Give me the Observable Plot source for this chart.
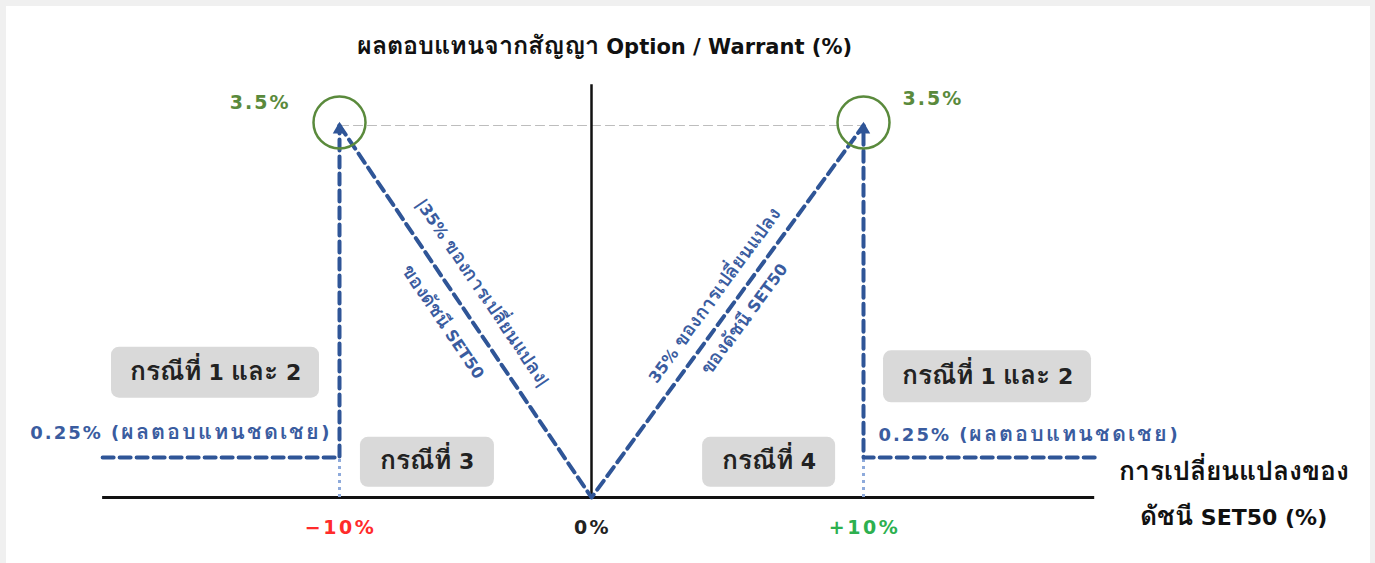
<!DOCTYPE html>
<html>
<head>
<meta charset="utf-8">
<script src="https://cdn.jsdelivr.net/npm/d3@7"></script>
<script src="https://cdn.jsdelivr.net/npm/@observablehq/plot@0.6"></script>
<style>
  @font-face {
    font-family: "ThaiFix";
    src: local("Loma Bold"), local("Loma-Bold"), local("Garuda Bold"), local("Garuda-Bold"),
         local("Noto Sans Thai Looped Bold"), local("Noto Sans Thai Bold"), local("NotoSansThai-Bold"),
         local("Loma"), local("Garuda"), local("Noto Sans Thai"), local("NotoSansThai-Regular");
    font-weight: 700;
    unicode-range: U+0E00-0E7F;
    size-adjust: 120%;
  }
  @font-face {
    font-family: "ThaiFix";
    src: local("Loma"), local("Garuda"), local("Noto Sans Thai Looped"), local("Noto Sans Thai"), local("NotoSansThai-Regular");
    font-weight: 400;
    unicode-range: U+0E00-0E7F;
    size-adjust: 120%;
  }
  html, body { margin: 0; padding: 0; background: #f0f0f0; }
  #panel { position: absolute; left: 6px; top: 6px; width: 1364px; height: 557px; background: #ffffff; }
  #chart { position: absolute; left: 0; top: 0; width: 1375px; height: 563px; }
</style>
</head>
<body>
<div id="panel"></div>
<div id="chart"></div>
<script>
// ---- data ----
const indexChange = [-10, 0, 10];        // SET50 change (%)
const payoffV = [3.5, 0, 3.5];           // option/warrant return (%) along the V
const capReturn = 3.5;                   // maximum return (%)
const compensation = 0.25;               // compensation return (%)
const xAxisExtent = [-19.4, 18.5];       // drawn extent of the x axis line
const yAxisExtent = [0, 3.9];            // drawn extent of the y axis line
const tickValues = [-10, 0, 10];
const tickLabels = ["−10%", "0%", "+10%"];
const capLabels = ["3.5%", "3.5%"];
const compLabel = "0.25% (ผลตอบแทนชดเชย)";
const caseLabels = ["กรณีที่ 1 และ 2", "กรณีที่ 1 และ 2", "กรณีที่ 3", "กรณีที่ 4"];
const slopeLine1 = ["|35% ของการเปลี่ยนแปลง|", "35% ของการเปลี่ยนแปลง"];
const slopeLine2 = "ของดัชนี SET50";
const titleText = "ผลตอบแทนจากสัญญา Option / Warrant (%)";
const xTitle = "การเปลี่ยนแปลงของ\nดัชนี SET50 (%)";

// ---- derived tables ----
const vLine = indexChange.map((x, i) => ({x, y: payoffV[i]}));
const leftComp = [{x: xAxisExtent[0], y: compensation}, {x: -10, y: compensation}, {x: -10, y: capReturn}];
const rightComp = [{x: xAxisExtent[1], y: compensation}, {x: 10, y: compensation}, {x: 10, y: capReturn}];
const capPoints = [{x: -10, y: capReturn}, {x: 10, y: capReturn}];
const ticks = tickValues.map((v, i) => ({v, label: tickLabels[i]}));

// annotation layout (chart coordinates of box centres, box size in px)
const boxes = [
  {label: caseLabels[0], x: -14.92, y: 1.08, w: 208, h: 51},
  {label: caseLabels[1], x: 14.56, y: 1.04, w: 208, h: 52},
  {label: caseLabels[2], x: -6.51, y: 0.22, w: 134, h: 50},
  {label: caseLabels[3], x: 6.53, y: 0.22, w: 133, h: 50}
];

const BLUE = "#2f5597";
const BLUE_TXT = "#3a5c9f";
const GREEN = "#5a8a3c";
const FONT = "'DejaVu Sans', ThaiFix, Loma, Garuda, 'Noto Sans Thai', sans-serif";

function off(theta, along, perp) {
  const t = theta * Math.PI / 180;
  return {dx: along * Math.cos(t) + perp * Math.sin(t), dy: along * Math.sin(t) - perp * Math.cos(t)};
}
const angL = 55.9, angR = -53.8;
const oL1 = off(angL, 0, 20), oL2 = off(angL, 2, -29);
const oR1 = off(angR, -1, 15), oR2 = off(angR, -2, -23);

function draw() {
  const boxMarks = boxes.map(b => Plot.rect([b], {x1: "x", x2: "x", y1: "y", y2: "y", fill: "#d9d9d9", rx: 8,
    insetLeft: -b.w / 2, insetRight: -b.w / 2, insetTop: -b.h / 2, insetBottom: -b.h / 2}));

  const chart = Plot.plot({
    width: 1375,
    height: 563,
    margin: 0,
    x: {type: "linear", domain: [-10, 0, 10], range: [339, 591, 863], axis: null},
    y: {type: "linear", domain: [0, 0.25, 3.5], range: [497, 457, 125], axis: null},
    style: {background: "transparent", fontFamily: FONT},
    marks: [
      Plot.line(capPoints, {x: "x", y: "y", stroke: "#bdbdbd", strokeWidth: 1.2, strokeDasharray: "9,5"}),
      ...boxMarks,
      Plot.ruleY([0], {x1: xAxisExtent[0], x2: xAxisExtent[1], stroke: "#111", strokeWidth: 3}),
      Plot.ruleX([0], {y1: yAxisExtent[0], y2: yAxisExtent[1], stroke: "#111", strokeWidth: 2.5}),
      Plot.ruleX([-10, 10], {y1: 0, y2: compensation, stroke: "#8eaadb", strokeWidth: 3, strokeDasharray: "3,4"}),
      Plot.line(leftComp, {x: "x", y: "y", stroke: BLUE, strokeWidth: 4, strokeDasharray: "11,6"}),
      Plot.line(rightComp, {x: "x", y: "y", stroke: BLUE, strokeWidth: 4, strokeDasharray: "11,6"}),
      Plot.line(vLine, {x: "x", y: "y", stroke: BLUE, strokeWidth: 4, strokeDasharray: "11,6"}),
      Plot.dot(capPoints, {x: "x", y: "y", symbol: "triangle", r: 5, fill: BLUE, dy: 4}),
      Plot.dot(capPoints, {x: "x", y: "y", r: 26, stroke: GREEN, strokeWidth: 2.5, fill: "none", dy: -3}),
      Plot.text([capPoints[0]], {x: "x", y: "y", text: () => capLabels[0], textAnchor: "end", dx: -49, dy: -23,
        fill: GREEN, fontSize: 19, fontWeight: "bold"}),
      Plot.text([capPoints[1]], {x: "x", y: "y", text: () => capLabels[1], textAnchor: "start", dx: 39, dy: -27,
        fill: GREEN, fontSize: 19, fontWeight: "bold"}),
      Plot.text([{x: -10, y: compensation}], {x: "x", y: "y", text: () => compLabel, textAnchor: "end", dx: -8, dy: -24,
        fill: BLUE_TXT, fontSize: 18, fontWeight: "bold"}),
      Plot.text([{x: 10, y: compensation}], {x: "x", y: "y", text: () => compLabel, textAnchor: "start", dx: 15, dy: -22,
        fill: BLUE_TXT, fontSize: 18, fontWeight: "bold"}),
      Plot.text(boxes, {x: "x", y: "y", text: "label", fill: "#222", fontSize: 22, fontWeight: "bold"}),
      Plot.text([{x: -5, y: 1.75}], {x: "x", y: "y", text: () => slopeLine1[0], rotate: angL, dx: oL1.dx, dy: oL1.dy,
        fill: BLUE_TXT, fontSize: 16, fontWeight: "bold"}),
      Plot.text([{x: -5, y: 1.75}], {x: "x", y: "y", text: () => slopeLine2, rotate: angL, dx: oL2.dx, dy: oL2.dy,
        fill: BLUE_TXT, fontSize: 16, fontWeight: "bold"}),
      Plot.text([{x: 5, y: 1.75}], {x: "x", y: "y", text: () => slopeLine1[1], rotate: angR, dx: oR1.dx, dy: oR1.dy,
        fill: BLUE_TXT, fontSize: 16, fontWeight: "bold"}),
      Plot.text([{x: 5, y: 1.75}], {x: "x", y: "y", text: () => slopeLine2, rotate: angR, dx: oR2.dx, dy: oR2.dy,
        fill: BLUE_TXT, fontSize: 16, fontWeight: "bold"}),
      Plot.text(ticks, {x: "v", y: () => 0, text: "label", dx: 1, dy: 30, fontSize: 19, fontWeight: "bold",
        fill: d => d.v < 0 ? "#ff2b2b" : d.v > 0 ? "#2db04f" : "#222"}),
      Plot.text([{x: xAxisExtent[1], y: 0}], {x: "x", y: "y", text: () => xTitle, dx: 139, dy: -9, lineHeight: 2.05,
        fill: "#111", fontSize: 22, fontWeight: "bold"}),
      Plot.text([{x: 0}], {x: "x", frameAnchor: "top", lineAnchor: "middle", text: () => titleText, dx: 13, dy: 47,
        fill: "#111", fontSize: 21, fontWeight: "bold"})
    ]
  });
  // letter spacing of the spaced-out labels
  const spacing = new Map([[compLabel, "2px"], ...capLabels.map(l => [l, "2px"]), ...tickLabels.map(l => [l, "2.5px"])]);
  d3.select(chart).selectAll("text").each(function () {
    const s = spacing.get(this.textContent);
    if (s) this.style.letterSpacing = s;
  });
  document.getElementById("chart").appendChild(chart);
}
document.fonts.load("bold 20px ThaiFix", "ก").catch(() => {}).finally(draw);
</script>
</body>
</html>
